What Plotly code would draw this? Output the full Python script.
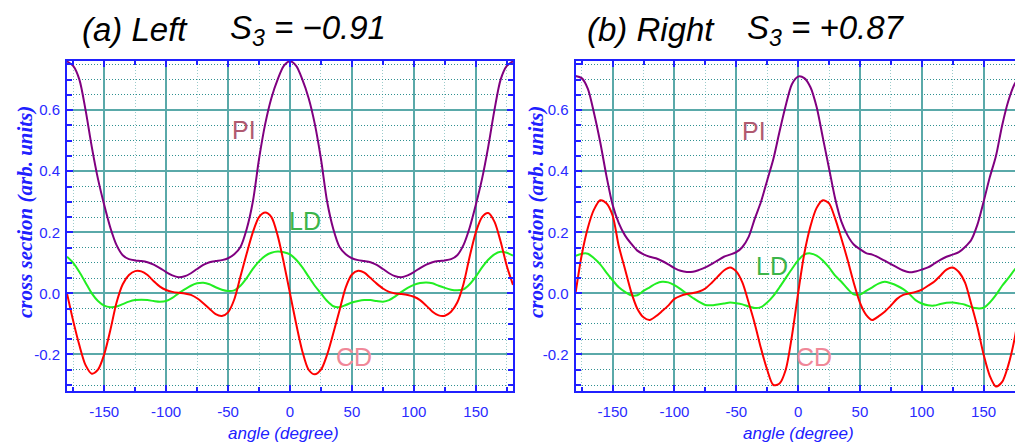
import plotly.graph_objects as go

# ---------------- data ----------------
angle = [-180, -175, -170, -165, -160, -155, -150, -145, -140, -135, -130, -125, -120,
         -115, -110, -105, -100, -95, -90, -85, -80, -75, -70, -65, -60, -55, -50,
         -45, -40, -35, -30, -25, -20, -15, -10, -5, 0, 5, 10, 15, 20, 25, 30, 35,
         40, 45, 50, 55, 60, 65, 70, 75, 80, 85, 90, 95, 100, 105, 110, 115, 120,
         125, 130, 135, 140, 145, 150, 155, 160, 165, 170, 175, 180]

# (a) Left
pi_left = [0.760, 0.745, 0.700, 0.600, 0.480, 0.375, 0.290, 0.215, 0.158, 0.125, 0.112, 0.108, 0.106,
           0.102, 0.094, 0.083, 0.070, 0.059, 0.053, 0.056, 0.066, 0.080, 0.093, 0.102, 0.106, 0.109, 0.115,
           0.128, 0.152, 0.210, 0.300, 0.440, 0.555, 0.640, 0.700, 0.745, 0.760, 0.745, 0.700, 0.640,
           0.555, 0.440, 0.300, 0.210, 0.152, 0.128, 0.115, 0.109, 0.106, 0.102, 0.093, 0.080, 0.066,
           0.056, 0.053, 0.059, 0.070, 0.083, 0.094, 0.102, 0.106, 0.108, 0.112, 0.125, 0.158, 0.215,
           0.290, 0.375, 0.480, 0.600, 0.700, 0.745, 0.760]
ld_left = [0.120, 0.100, 0.070, 0.035, 0.000, -0.025, -0.040, -0.045, -0.043, -0.035, -0.027, -0.022, -0.021,
           -0.022, -0.025, -0.027, -0.025, -0.015, 0.000, 0.013, 0.025, 0.033, 0.035, 0.030, 0.020, 0.012, 0.008,
           0.010, 0.025, 0.050, 0.080, 0.105, 0.123, 0.133, 0.137, 0.135, 0.128, 0.110, 0.085, 0.055,
           0.025, 0.000, -0.025, -0.042, -0.045, -0.038, -0.030, -0.025, -0.022, -0.022, -0.025, -0.027, -0.022,
           -0.010, 0.005, 0.018, 0.028, 0.034, 0.036, 0.033, 0.025, 0.018, 0.012, 0.010, 0.013, 0.030,
           0.055, 0.085, 0.110, 0.128, 0.136, 0.133, 0.124]
cd_left = [0.000, -0.090, -0.170, -0.235, -0.263, -0.250, -0.200, -0.120, -0.030, 0.030, 0.060, 0.073, 0.072,
           0.060, 0.040, 0.022, 0.011, 0.005, 0.002, 0.000, -0.005, -0.016, -0.032, -0.050, -0.068, -0.074, -0.062,
           -0.020, 0.055, 0.130, 0.200, 0.250, 0.265, 0.250, 0.190, 0.100, 0.000, -0.100, -0.190, -0.250,
           -0.265, -0.250, -0.200, -0.130, -0.055, 0.020, 0.062, 0.074, 0.068, 0.050, 0.032, 0.016, 0.005,
           0.000, -0.002, -0.005, -0.011, -0.022, -0.040, -0.060, -0.072, -0.073, -0.060, -0.030, 0.030, 0.120,
           0.200, 0.250, 0.263, 0.235, 0.170, 0.090, 0.028]

# (b) Right
pi_right = [0.712, 0.705, 0.670, 0.590, 0.495, 0.385, 0.290, 0.230, 0.190, 0.163, 0.140, 0.128, 0.120,
            0.115, 0.106, 0.095, 0.083, 0.074, 0.070, 0.071, 0.077, 0.085, 0.096, 0.108, 0.120, 0.127, 0.135,
            0.152, 0.185, 0.245, 0.300, 0.370, 0.440, 0.530, 0.615, 0.685, 0.710, 0.705, 0.675, 0.610,
            0.510, 0.410, 0.310, 0.235, 0.190, 0.160, 0.145, 0.132, 0.127, 0.118, 0.107, 0.096, 0.085,
            0.075, 0.069, 0.072, 0.078, 0.085, 0.097, 0.110, 0.120, 0.127, 0.135, 0.152, 0.175, 0.225,
            0.300, 0.380, 0.450, 0.550, 0.630, 0.685, 0.712]
ld_right = [0.123, 0.130, 0.130, 0.115, 0.095, 0.068, 0.043, 0.020, 0.005, -0.006, -0.006, 0.008, 0.020,
            0.032, 0.038, 0.036, 0.027, 0.014, -0.001, -0.015, -0.028, -0.038, -0.039, -0.036, -0.033, -0.030, -0.032,
            -0.036, -0.043, -0.048, -0.045, -0.030, -0.008, 0.020, 0.050, 0.080, 0.108, 0.127, 0.131, 0.124,
            0.108, 0.085, 0.058, 0.038, 0.015, -0.003, -0.004, 0.008, 0.020, 0.032, 0.038, 0.033, 0.025,
            0.014, -0.002, -0.022, -0.033, -0.039, -0.040, -0.035, -0.031, -0.030, -0.033, -0.037, -0.045, -0.049,
            -0.047, -0.030, -0.005, 0.025, 0.050, 0.077, 0.100]
cd_right = [0.000, 0.125, 0.215, 0.275, 0.305, 0.295, 0.255, 0.155, 0.080, 0.005, -0.050, -0.078, -0.087,
            -0.075, -0.058, -0.040, -0.018, -0.008, -0.002, 0.001, 0.006, 0.016, 0.034, 0.055, 0.075, 0.085, 0.072,
            0.035, -0.030, -0.100, -0.180, -0.250, -0.300, -0.295, -0.250, -0.140, 0.000, 0.130, 0.220, 0.280,
            0.305, 0.295, 0.245, 0.180, 0.110, 0.035, -0.030, -0.070, -0.087, -0.075, -0.060, -0.040, -0.018,
            -0.005, 0.000, 0.005, 0.012, 0.025, 0.038, 0.058, 0.078, 0.085, 0.070, 0.035, -0.035, -0.110,
            -0.200, -0.270, -0.305, -0.290, -0.235, -0.150, -0.030]

x_tickvals = [-150, -100, -50, 0, 50, 100, 150]
x_ticktext = ["-150", "-100", "-50", "0", "50", "100", "150"]
y_tickvals = [-0.2, 0.0, 0.2, 0.4, 0.6]
y_ticktext = ["-0.2", "0.0", "0.2", "0.4", "0.6"]

panel_titles = [("(a) Left", "S<sub>3</sub> = \u22120.91"), ("(b) Right", "S<sub>3</sub> = +0.87")]
labels = ["PI", "LD", "CD"]
x_title = "angle (degree)"
y_title = "cross section (arb. units)"

# ---------------- styles ----------------
W, H = 1015, 443
BLUE = "#2020ff"
TICKBLUE = "#2a2aff"
PURPLE = "#800080"
GREEN = "#22ee22"
RED = "#ff0000"
GRID = "#5aa9a9"
MINOR = "#2f9090"
SANS = "Liberation Sans, Arial, Helvetica, sans-serif"
SERIF = "Liberation Serif, Times New Roman, serif"

fig = go.Figure()

panels = [
    dict(pi=pi_left, ld=ld_left, cd=cd_left, xa="x", ya="y"),
    dict(pi=pi_right, ld=ld_right, cd=cd_right, xa="x2", ya="y2"),
]
for p in panels:
    for vals, col in [(p["pi"], PURPLE), (p["ld"], GREEN), (p["cd"], RED)]:
        fig.add_trace(go.Scatter(x=angle, y=vals, mode="lines", xaxis=p["xa"], yaxis=p["ya"],
                                 line=dict(color=col, width=2, shape="spline", smoothing=0.8),
                                 showlegend=False, hoverinfo="skip"))

ydom = [1 - 390.5 / H, 1 - 60.7 / H]
xdom_left = [67 / W, 513 / W]
xdom_right = [575.5 / W, 1.0]
yrange = [-0.318, 0.762]


def xaxis_cfg(dom, rng, anchor):
    return dict(domain=dom, range=rng, anchor=anchor, automargin=False,
                tickmode="array", tickvals=x_tickvals, ticktext=x_ticktext,
                showline=True, linecolor=BLUE, linewidth=2, mirror="ticks",
                ticks="inside", ticklen=6, tickwidth=2, tickcolor=BLUE,
                tickfont=dict(family=SANS, size=15, color=TICKBLUE),
                ticklabelstandoff=6,
                showgrid=True, gridcolor=GRID, gridwidth=1.5, zeroline=False,
                minor=dict(tickmode="linear", tick0=0, dtick=25, ticks="inside", ticklen=4,
                           tickwidth=2, tickcolor=BLUE, showgrid=True, gridcolor="#9ccccc",
                           griddash="1px,2px", gridwidth=1.2))


def yaxis_cfg(anchor, mirror):
    return dict(domain=ydom, range=yrange, anchor=anchor, automargin=False,
                tickmode="array", tickvals=y_tickvals, ticktext=y_ticktext,
                showline=True, linecolor=BLUE, linewidth=2, mirror=mirror,
                ticks="inside", ticklen=6, tickwidth=2, tickcolor=BLUE,
                tickfont=dict(family=SANS, size=15, color=TICKBLUE),
                showgrid=True, gridcolor=GRID, gridwidth=1.5, zeroline=False,
                ticklabelstandoff=2,
                minor=dict(tickmode="linear", tick0=0, dtick=0.05, ticks="inside", ticklen=5,
                           tickwidth=2, tickcolor=BLUE, showgrid=True, gridcolor=MINOR,
                           griddash="1px,2px", gridwidth=1.2))


fig.update_layout(
    width=W, height=H,
    margin=dict(l=0, r=0, t=0, b=0),
    paper_bgcolor="white", plot_bgcolor="white",
    xaxis=xaxis_cfg(xdom_left, [-180, 180], "y"),
    yaxis=yaxis_cfg("x", "ticks"),
    xaxis2=xaxis_cfg(xdom_right, [-180, 175.4], "y2"),
    yaxis2=yaxis_cfg("x2", False),
)

ann = []
# panel titles
title_pos = [(80, 228), (585, 745)]
for (t1, t2), (xa, xb) in zip(panel_titles, title_pos):
    for txt, xp in [(t1, xa), (t2, xb)]:
        ann.append(dict(text=txt, x=xp / W, y=1 - 29.5 / H, xref="paper", yref="paper",
                        xanchor="left", yanchor="middle", showarrow=False,
                        font=dict(family=SANS, size=33, color="black", style="italic")))
# axis titles
for cx, cy in [(283, 433.5), (798, 433.5)]:
    ann.append(dict(text=x_title, x=cx / W, y=1 - cy / H, xref="paper", yref="paper",
                    xanchor="center", yanchor="middle", showarrow=False,
                    font=dict(family=SANS, size=17, color=BLUE, style="italic")))
for cx in [25, 536]:
    ann.append(dict(text=y_title, x=cx / W, y=1 - 212 / H, xref="paper", yref="paper",
                    xanchor="center", yanchor="middle", showarrow=False, textangle=-90,
                    font=dict(family=SERIF, size=21, color=BLUE, style="italic", weight="bold")))
# curve labels
label_colors = ["#b05a70", "#3cb54a", "#f08898"]
label_pos = [
    [(-37, 0.535), (12, 0.238), (52, -0.208)],
    [(-36, 0.532), (-21.5, 0.089), (12.7, -0.209)],
]
for (xr, yr), poss in zip([("x", "y"), ("x2", "y2")], label_pos):
    for lab, col, (lx, ly) in zip(labels, label_colors, poss):
        ann.append(dict(text=lab, x=lx, y=ly, xref=xr, yref=yr, xanchor="center", yanchor="middle",
                        showarrow=False, font=dict(family=SANS, size=25, color=col)))

fig.update_layout(annotations=ann)
fig.write_html("out.html", config={"displayModeBar": False},
               post_script="document.body.style.margin='0';document.body.style.padding='0';")
